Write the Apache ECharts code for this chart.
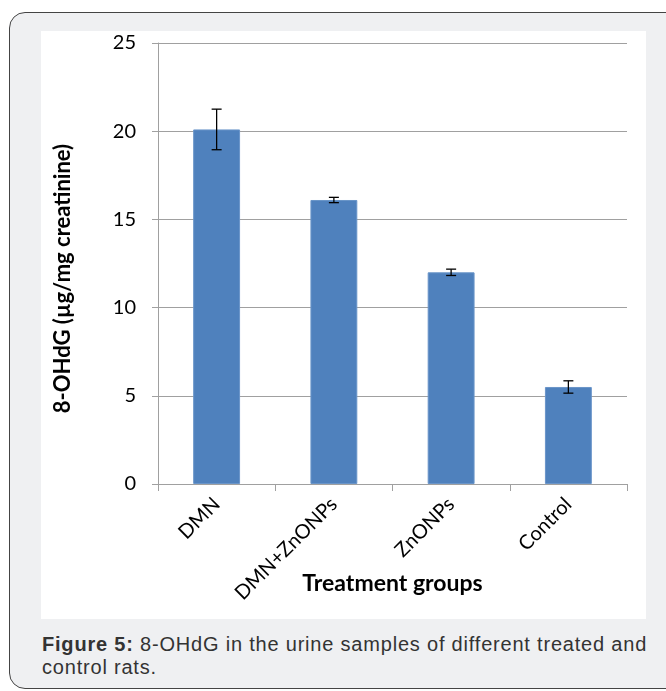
<!DOCTYPE html>
<html>
<head>
<meta charset="utf-8">
<script src="https://cdn.jsdelivr.net/npm/echarts@6/dist/echarts.min.js"></script>
<style>
  html, body { margin: 0; padding: 0; background: #fff; width: 666px; height: 691px; overflow: hidden; }
  .frame {
    position: absolute; left: 9px; top: 12px; width: 720px; height: 675px;
    border: 1px solid #444; border-radius: 16px; background: #eff0f2;
  }
  #main { position: absolute; left: 41px; top: 31px; width: 605px; height: 588px; background: #fff; }
  .caption {
    position: absolute; left: 42px; top: 633px; width: 612px;
    font-family: "Liberation Sans", Arial, sans-serif; font-size: 20px; line-height: 23px;
    letter-spacing: 0.8px; color: #333;
  }
</style>
</head>
<body>
<div class="frame"></div>
<div id="main"></div>
<div class="caption"><b>Figure 5:</b> 8-OHdG in the urine samples of different treated and control rats.</div>
<script>
// data
var groups = ['DMN', 'DMN+ZnONPs', 'ZnONPs', 'Control'];
var means = [20.1, 16.1, 12.0, 5.5];
var errors = [1.15, 0.15, 0.18, 0.35];

var errData = [];
for (var i = 0; i < groups.length; i++) {
    errData.push([i, means[i] - errors[i], means[i] + errors[i]]);
}

var myChart = echarts.init(document.getElementById('main'));

var option = {
    animation: false,
    grid: { left: 117, top: 12, right: 19, bottom: 135, containLabel: false, outerBoundsMode: 'none' },
    xAxis: {
        type: 'category',
        data: groups,
        name: 'Treatment groups',
        nameLocation: 'middle',
        nameGap: 88,
        nameMoveOverlap: false,
        nameTextStyle: { fontFamily: 'Lato', fontWeight: 'bold', fontSize: 23, color: '#000' },
        axisLine: { lineStyle: { color: '#a0a0a0', width: 1 } },
        axisTick: { show: true, length: 7, lineStyle: { color: '#a0a0a0' } },
        axisLabel: { rotate: 45, margin: 17, fontFamily: 'Lato', fontSize: 20, color: '#000' }
    },
    yAxis: {
        type: 'value',
        min: 0, max: 25, interval: 5,
        name: '8-OHdG (µg/mg creatinine)',
        nameLocation: 'middle',
        nameGap: 84,
        nameMoveOverlap: false,
        nameTextStyle: {
            fontFamily: 'Lato', fontWeight: 'bold', fontSize: 22, color: '#000',
            padding: [0, 30, 0, 0]
        },
        axisLine: { show: true, lineStyle: { color: '#a0a0a0', width: 1 } },
        axisTick: { show: true, length: 6, lineStyle: { color: '#a0a0a0' } },
        axisLabel: { margin: 22, fontFamily: 'Lato', fontSize: 20, color: '#000' },
        splitLine: { lineStyle: { color: '#a0a0a0', width: 1 } }
    },
    series: [
        {
            type: 'bar',
            data: means,
            barWidth: '40%',
            itemStyle: { color: '#4f81bd', borderColor: '#6a95c9', borderWidth: 1 }
        },
        {
            type: 'custom',
            data: errData,
            z: 10,
            renderItem: function (params, api) {
                var lo = api.coord([api.value(0), api.value(1)]);
                var hi = api.coord([api.value(0), api.value(2)]);
                var w = 5;
                var style = { stroke: '#000', lineWidth: 1.3 };
                return {
                    type: 'group',
                    children: [
                        { type: 'line', shape: { x1: hi[0], y1: hi[1], x2: lo[0], y2: lo[1] }, style: style },
                        { type: 'line', shape: { x1: hi[0] - w, y1: hi[1], x2: hi[0] + w, y2: hi[1] }, style: style },
                        { type: 'line', shape: { x1: lo[0] - w, y1: lo[1], x2: lo[0] + w, y2: lo[1] }, style: style }
                    ]
                };
            }
        }
    ]
};

myChart.setOption(option);
</script>
</body>
</html>
